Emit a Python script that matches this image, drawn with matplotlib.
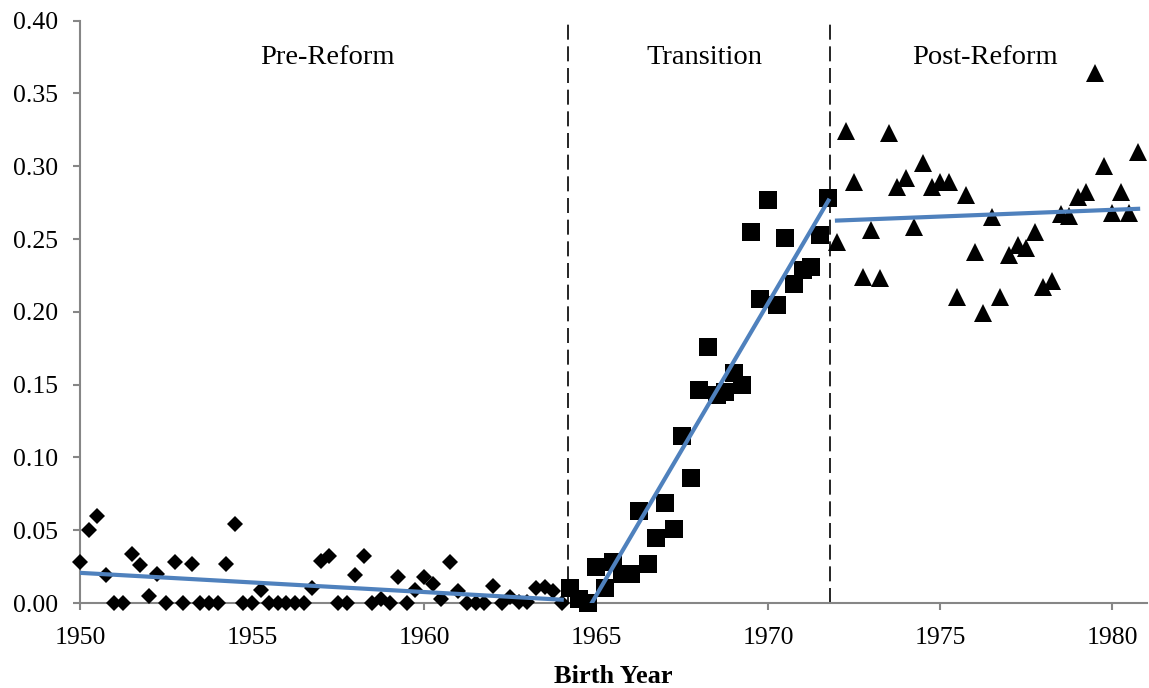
import numpy as np
import matplotlib
matplotlib.use('Agg')
import matplotlib.pyplot as plt

plt.rcParams['font.family'] = ['Liberation Serif', 'DejaVu Serif']

# birth cohorts (quarterly) and shares
pre_years = [1950.0, 1950.25, 1950.5, 1950.75, 1951.0, 1951.25, 1951.5, 1951.75,
             1952.0, 1952.25, 1952.5, 1952.75, 1953.0, 1953.25, 1953.5, 1953.75,
             1954.0, 1954.25, 1954.5, 1954.75, 1955.0, 1955.25, 1955.5, 1955.75,
             1956.0, 1956.25, 1956.5, 1956.75, 1957.0, 1957.25, 1957.5, 1957.75,
             1958.0, 1958.25, 1958.5, 1958.75, 1959.0, 1959.25, 1959.5, 1959.75,
             1960.0, 1960.25, 1960.5, 1960.75, 1961.0, 1961.25, 1961.5, 1961.75,
             1962.0, 1962.25, 1962.5, 1962.75, 1963.0, 1963.25, 1963.5, 1963.75,
             1964.0]
pre_vals = [0.028, 0.050, 0.060, 0.019, 0.000, 0.000, 0.034, 0.026,
            0.005, 0.020, 0.000, 0.028, 0.000, 0.027, 0.000, 0.000,
            0.000, 0.027, 0.054, 0.000, 0.000, 0.009, 0.000, 0.000,
            0.000, 0.000, 0.000, 0.010, 0.029, 0.032, 0.000, 0.000,
            0.019, 0.032, 0.000, 0.003, 0.000, 0.018, 0.000, 0.009,
            0.018, 0.013, 0.003, 0.028, 0.008, 0.000, 0.000, 0.000,
            0.012, 0.000, 0.004, 0.001, 0.001, 0.010, 0.011, 0.008,
            0.000]

trans_years = [1964.25, 1964.5, 1964.75, 1965.0, 1965.25, 1965.5, 1965.75,
               1966.0, 1966.25, 1966.5, 1966.75, 1967.0, 1967.25, 1967.5, 1967.75,
               1968.0, 1968.25, 1968.5, 1968.75, 1969.0, 1969.25, 1969.5, 1969.75,
               1970.0, 1970.25, 1970.5, 1970.75, 1971.0, 1971.25, 1971.5, 1971.75]
trans_vals = [0.010, 0.003, 0.000, 0.025, 0.010, 0.028, 0.020,
              0.020, 0.063, 0.027, 0.045, 0.069, 0.051, 0.115, 0.086,
              0.146, 0.176, 0.143, 0.145, 0.158, 0.150, 0.255, 0.209,
              0.277, 0.205, 0.251, 0.219, 0.229, 0.231, 0.253, 0.278]

post_years = [1972.0, 1972.25, 1972.5, 1972.75, 1973.0, 1973.25, 1973.5, 1973.75,
              1974.0, 1974.25, 1974.5, 1974.75, 1975.0, 1975.25, 1975.5, 1975.75,
              1976.0, 1976.25, 1976.5, 1976.75, 1977.0, 1977.25, 1977.5, 1977.75,
              1978.0, 1978.25, 1978.5, 1978.75, 1979.0, 1979.25, 1979.5, 1979.75,
              1980.0, 1980.25, 1980.5, 1980.75]
post_vals = [0.248, 0.324, 0.289, 0.224, 0.256, 0.223, 0.323, 0.286,
             0.292, 0.258, 0.302, 0.286, 0.289, 0.289, 0.210, 0.280,
             0.241, 0.199, 0.265, 0.210, 0.239, 0.246, 0.244, 0.255,
             0.217, 0.221, 0.267, 0.266, 0.279, 0.282, 0.364, 0.300,
             0.268, 0.282, 0.268, 0.310]

reform_breaks = [1964.17, 1971.8]
period_labels = ['Pre-Reform', 'Transition', 'Post-Reform']
label_x = [1957.2, 1968.15, 1976.3]

blue = '#4F81BD'
grey = '#868686'

fig = plt.figure(figsize=(11.49, 6.88), dpi=100)
ax = fig.add_axes([0.0696, 0.1235, 0.9284, 0.8465])

# data points per period
ax.plot(pre_years, pre_vals, 'D', color='black', ms=8.5, mew=0, clip_on=False, zorder=3)
ax.plot(trans_years, trans_vals, 's', color='black', ms=13.5, mew=0, clip_on=False, zorder=3)
ax.plot(post_years, post_vals, '^', color='black', ms=12.5, mew=0, clip_on=False, zorder=3)

# linear fit in each period
for xs, ys in [(pre_years, pre_vals), (trans_years, trans_vals), (post_years, post_vals)]:
    xs = np.array(xs)
    k, c = np.polyfit(xs, ys, 1)
    ax.plot([xs[0], xs[-1]], [k * xs[0] + c, k * xs[-1] + c], color=blue, lw=3, zorder=4)

# reform cut-offs
for b in reform_breaks:
    ax.plot([b, b], [0, 0.40], color='black', lw=1.2, ls=(0, (9, 4)), zorder=2, clip_on=False)

for lab, lx in zip(period_labels, label_x):
    ax.text(lx, 0.375, lab, ha='center', va='center', fontsize=20.5)

ax.set_xlim(1950, 1981)
ax.set_ylim(0, 0.40)
ax.set_xticks([1950, 1955, 1960, 1965, 1970, 1975, 1980])
ax.set_yticks(np.arange(0, 0.401, 0.05))
ax.set_yticklabels(['%.2f' % v for v in np.arange(0, 0.401, 0.05)])
ax.set_xlabel('Birth Year', fontsize=19, fontweight='bold', labelpad=12)

for s in ['top', 'right']:
    ax.spines[s].set_visible(False)
for s in ['left', 'bottom']:
    ax.spines[s].set_color(grey)
    ax.spines[s].set_linewidth(1.5)
ax.tick_params(axis='both', colors=grey, width=1.5, length=5, labelsize=18.5, labelcolor='black')
ax.tick_params(axis='y', pad=11)
ax.tick_params(axis='x', pad=12)

fig.savefig('out.png', dpi=100)
